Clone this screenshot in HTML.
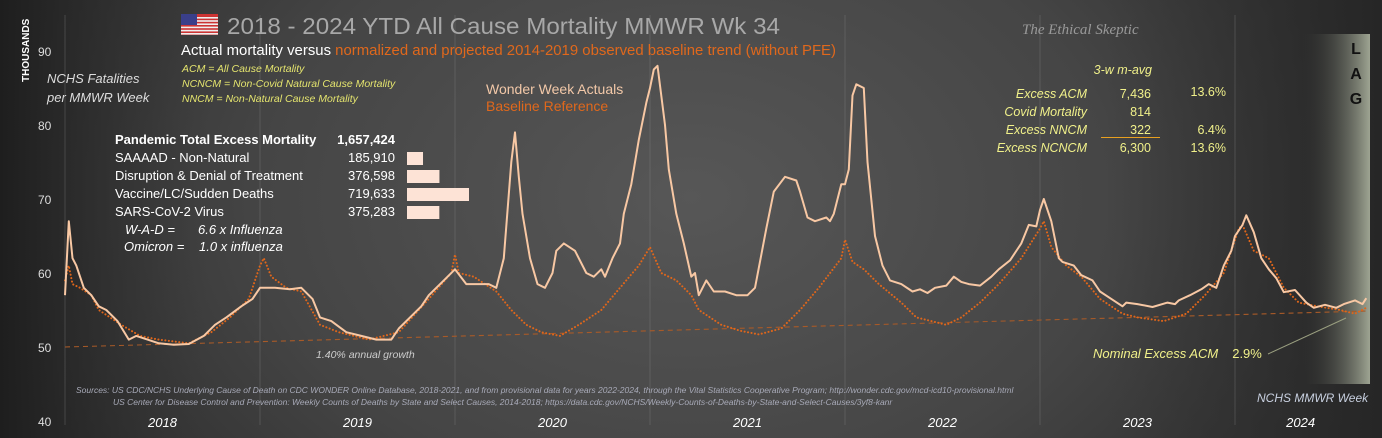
<!DOCTYPE html>
<html><head><meta charset="utf-8"><style>
html,body{margin:0;padding:0;background:#2a2a2a;}
svg{display:block;font-family:"Liberation Sans",sans-serif;}
</style></head><body>
<svg id="chart" width="1382" height="438" viewBox="0 0 1382 438" xmlns="http://www.w3.org/2000/svg">
<defs>
<radialGradient id="bg" cx="0.5" cy="0.45" r="0.62" gradientTransform="translate(0.5 0.45) scale(1 2.2) translate(-0.5 -0.45)">
<stop offset="0" stop-color="#575757"/><stop offset="0.5" stop-color="#454545"/><stop offset="1" stop-color="#222"/></radialGradient>
<linearGradient id="lag" x1="0" x2="1"><stop offset="0" stop-color="#2a2a2a" stop-opacity="0"/><stop offset="1" stop-color="#9ea492"/></linearGradient>
<linearGradient id="bgh" x1="0" x2="1"><stop offset="0" stop-color="#1e1e1e"/><stop offset="0.15" stop-color="#333" stop-opacity="0"/><stop offset="0.8" stop-color="#333" stop-opacity="0"/><stop offset="1" stop-color="#262626"/></linearGradient>
</defs>
<rect width="1382" height="438" fill="url(#bg)"/>
<rect width="1382" height="438" fill="url(#bgh)"/>
<rect x="1300" y="34" width="70" height="350" fill="url(#lag)"/>
<g id="grid"></g>
<g id="marks"></g>
<g id="yticks"></g>
<text transform="translate(29,82) rotate(-90)" font-size="10" font-weight="bold" fill="#fff">THOUSANDS</text>
<g>
<rect x="181" y="14" width="37" height="21" fill="#c33"/>
<rect x="181" y="17" width="37" height="1.6" fill="#eee"/><rect x="181" y="20.2" width="37" height="1.6" fill="#eee"/><rect x="181" y="23.4" width="37" height="1.6" fill="#eee"/><rect x="181" y="26.6" width="37" height="1.6" fill="#eee"/><rect x="181" y="29.8" width="37" height="1.6" fill="#eee"/><rect x="181" y="33" width="37" height="1.6" fill="#eee"/>
<rect x="181" y="14" width="16" height="11" fill="#3a3f8a"/></g>
<text x="227" y="34" font-size="23" fill="#a8a8a8" textLength="553" lengthAdjust="spacingAndGlyphs">2018 - 2024 YTD All Cause Mortality MMWR Wk 34</text>
<text x="181" y="55" font-size="14.5" fill="#fff" textLength="655" lengthAdjust="spacingAndGlyphs">Actual mortality versus <tspan fill="#e0681c">normalized and projected 2014-2019 observed baseline trend (without PFE)</tspan></text>
<g font-size="10.5" font-style="italic" fill="#e4e46e">
<text x="182" y="72">ACM = All Cause Mortality</text>
<text x="182" y="87">NCNCM = Non-Covid Natural Cause Mortality</text>
<text x="182" y="102">NNCM = Non-Natural Cause Mortality</text></g>
<g font-size="13" font-style="italic" fill="#ddd">
<text x="47" y="83">NCHS Fatalities</text><text x="47" y="102">per MMWR Week</text></g>
<g font-size="13" fill="#fff">
<text x="115" y="144" font-weight="bold">Pandemic Total Excess Mortality</text><text x="395" y="144" font-weight="bold" text-anchor="end">1,657,424</text>
<text x="115" y="162">SAAAAD - Non-Natural</text><text x="395" y="162" text-anchor="end">185,910</text>
<text x="115" y="180">Disruption &amp; Denial of Treatment</text><text x="395" y="180" text-anchor="end">376,598</text>
<text x="115" y="198">Vaccine/LC/Sudden Deaths</text><text x="395" y="198" text-anchor="end">719,633</text>
<text x="115" y="216">SARS-CoV-2 Virus</text><text x="395" y="216" text-anchor="end">375,283</text>
<text x="125" y="234" font-style="italic">W-A-D =</text><text x="198" y="234" font-style="italic">6.6 x Influenza</text>
<text x="124" y="251" font-style="italic">Omicron =</text><text x="199" y="251" font-style="italic">1.0 x influenza</text>
</g>
<g id="bars"></g>
<text x="486" y="94" font-size="14" fill="#f2c8a8">Wonder Week Actuals</text>
<text x="486" y="111" font-size="14" fill="#e0681c">Baseline Reference</text>
<text x="1022" y="34" font-size="15" font-style="italic" fill="#999" font-family="Liberation Serif,serif">The Ethical Skeptic</text>
<g font-size="12.5" font-style="italic" fill="#f0f08a">
<text x="1152" y="74" text-anchor="end">3-w m-avg</text>
<text x="1087" y="98" text-anchor="end">Excess ACM</text><text x="1151" y="98" text-anchor="end" font-style="normal">7,436</text><text x="1226" y="96" text-anchor="end" font-style="normal">13.6%</text>
<text x="1087" y="116" text-anchor="end">Covid Mortality</text><text x="1151" y="116" text-anchor="end" font-style="normal">814</text>
<text x="1087" y="134" text-anchor="end">Excess NNCM</text><text x="1151" y="134" text-anchor="end" font-style="normal">322</text><text x="1226" y="134" text-anchor="end" font-style="normal">6.4%</text>
<text x="1087" y="152" text-anchor="end">Excess NCNCM</text><text x="1151" y="152" text-anchor="end" font-style="normal">6,300</text><text x="1226" y="152" text-anchor="end" font-style="normal">13.6%</text>
</g>
<line x1="1101" y1="137.5" x2="1160" y2="137.5" stroke="#e8a020" stroke-width="1"/>
<g font-size="16" font-weight="bold" fill="#111" text-anchor="middle">
<text x="1356" y="54">L</text><text x="1356" y="79">A</text><text x="1356" y="104">G</text></g>
<line x1="1268" y1="354" x2="1346" y2="318" stroke="#9a9f80" stroke-width="1"/>
<text x="1093" y="358" font-size="13" font-style="italic" fill="#f0f08a">Nominal Excess ACM<tspan dx="14" font-style="normal">2.9%</tspan></text>
<text x="316" y="358" font-size="10.5" font-style="italic" fill="#ccc">1.40% annual growth</text>
<g font-size="8.5" font-style="italic" fill="#a8aab8">
<text x="76" y="393">Sources:  US CDC/NCHS Underlying Cause of Death on CDC WONDER Online Database, 2018-2021, and from provisional data for years 2022-2024, through the Vital Statistics Cooperative Program; http://wonder.cdc.gov/mcd-icd10-provisional.html</text>
<text x="113" y="405">US Center for Disease Control and Prevention: Weekly Counts of Deaths by State and Select Causes, 2014-2018; https://data.cdc.gov/NCHS/Weekly-Counts-of-Deaths-by-State-and-Select-Causes/3yf8-kanr</text></g>
<text x="1257" y="402" font-size="12" font-style="italic" fill="#c8d0e0">NCHS MMWR Week</text>
<g id="years"></g>
</svg>
<script>
const yTicks=[40,50,60,70,80,90];
const years=["2018","2019","2020","2021","2022","2023","2024"];
const barValues=[185910,376598,719633,375283];
const actualWeeks=[0,1,2,3,5,7,9,11,14,17,19,22,25,29,33,37,40,43,47,50,52,56,60,63,66,68,71,75,79,83,87,89,92,95,97,101,104,107,109,113,115,117,119,120,121,122,124,126,128,130,131,133,136,139,141,143,144,146,148,149,151,153,155,156,157,158,160,161,163,165,167,168,169,171,173,176,179,182,184,187,189,192,195,196,198,200,203,204,205,207,208,209,210,211,213,214,216,218,220,223,226,228,230,232,235,237,239,241,244,247,249,252,255,257,259,260,261,263,265,266,269,271,274,276,279,282,283,286,290,294,296,297,300,303,305,307,309,311,312,314,315,317,319,321,323,325,328,331,333,336,339,341,344,346,347];
const actualValues=[57,67,62,61,58,57,55.5,55,53.5,51,51.5,51,50.5,50.3,50.4,51.5,53,54,55.5,56.5,58,58,57.8,58,56.5,54,53.5,52,51.5,51,51,52.5,54,55.5,57,59,60.5,58.5,58.5,58.5,58,62,75,79,73,68,62,58.5,58,60,63,64,63,60,59.5,60.5,59.5,62,64,68,72,78,83,85,87.5,88,80,74,68,64,59.5,60,57,59,57.5,57.5,57,57,58,66,71,73,72.5,71,67.5,67,67.5,67,68,72,72,74,84,85.5,85,75,65,61,59,58.5,57.5,57.8,57.3,58,58.3,59.5,58.8,58.5,58.3,59.5,60.5,61.7,64,66.5,66.3,68.5,70,67,62,61.5,61,59.7,59,57.5,56.5,55.5,56,55.8,55.4,56,55.8,56.3,57,57.8,58.5,58,61,63,65,66.5,67.8,65.5,62,60.5,59.3,57.4,57.7,56,55.3,55.7,55.3,55.8,56.3,55.8,56.6];
const baseWeeks=[0,1,2,4,7,9,15,20,25,33,39,44,49,52,53,55,59,63,68,73,81,89,97,103,104,105,109,115,119,123,127,132,137,143,148,153,156,159,163,167,169,175,180,185,191,196,201,207,208,210,213,217,223,227,231,235,239,244,249,255,260,261,263,267,271,276,282,286,293,299,304,309,313,314,317,321,325,329,334,340,344,347];
const baseValues=[59,61,58.5,58,57,55,53,51.5,51,50.5,52,54,56.5,61,62,59.5,58,57.5,53,52,51,52,56.5,60,62.5,60,59.5,57.5,55,53,52,51.5,53,55,58,61,63.5,60,59,57,55,53,52.2,51.7,52.5,55,58,62,64.5,61.5,60.5,58.5,56,54,53.5,53,54,56,58.5,62,66,67,63.5,61,59.5,56.5,54.5,54,53.5,54.5,57,60,66,66.5,63,62,58,56,55.5,55,54.5,55.3];
const trendStart=50, trendGrowth=0.014;

const NS="http://www.w3.org/2000/svg";
const x0=65, pxPerWeek=3.75, yBase=421, pxPerUnit=7.4;
const xs=w=>x0+w*pxPerWeek;
const ys=v=>yBase-(v-40)*pxPerUnit;
function mk(tag,attrs,parent){const e=document.createElementNS(NS,tag);for(const k in attrs)e.setAttribute(k,attrs[k]);parent.appendChild(e);return e;}
const grid=document.getElementById('grid'),marks=document.getElementById('marks'),yt=document.getElementById('yticks'),yr=document.getElementById('years'),bars=document.getElementById('bars');
years.forEach((y,i)=>{
  const l=mk('line',{x1:xs(i*52),x2:xs(i*52),y1:15,y2:425,stroke:'#888','stroke-width':0.8,'stroke-opacity':0.4},grid);
  
  
  const end=Math.min((i+1)*52,347);
  const t=mk('text',{x:(xs(i*52)+xs(end))/2,y:427,'font-size':13,'font-style':'italic',fill:'#fff','text-anchor':'middle'},yr);
  t.textContent=y;
  
  
});
yTicks.forEach(v=>{
  const t=mk('text',{x:38,y:ys(v)+5,'font-size':12,fill:'#ddd'},yt);
  t.textContent=v;
  
  
});
const trend=mk('line',{x1:xs(0),y1:ys(trendStart),x2:xs(347),y2:ys(trendStart*Math.pow(1+trendGrowth,347/52)),stroke:'#a85a28','stroke-width':1.1,'stroke-dasharray':'5 4'},marks);


const bp=baseWeeks.map((w,i)=>xs(w).toFixed(1)+','+ys(baseValues[i]).toFixed(1)).join(' ');
const base=mk('polyline',{points:bp,fill:'none',stroke:'#e0661a','stroke-width':2,'stroke-dasharray':'0.1 3.4','stroke-linecap':'round'},marks);


const ap=actualWeeks.map((w,i)=>xs(w).toFixed(1)+','+ys(actualValues[i]).toFixed(1)).join(' ');
const act=mk('polyline',{points:ap,fill:'none',stroke:'#f8c8a4','stroke-width':2,'stroke-linejoin':'round'},marks);


const barScale=62/719633;
barValues.forEach((v,i)=>{
  const r=mk('rect',{x:407,y:152+i*18,width:v*barScale,height:13,fill:'#fde3d6'},bars);
  
  
});
</script>
</body></html>
